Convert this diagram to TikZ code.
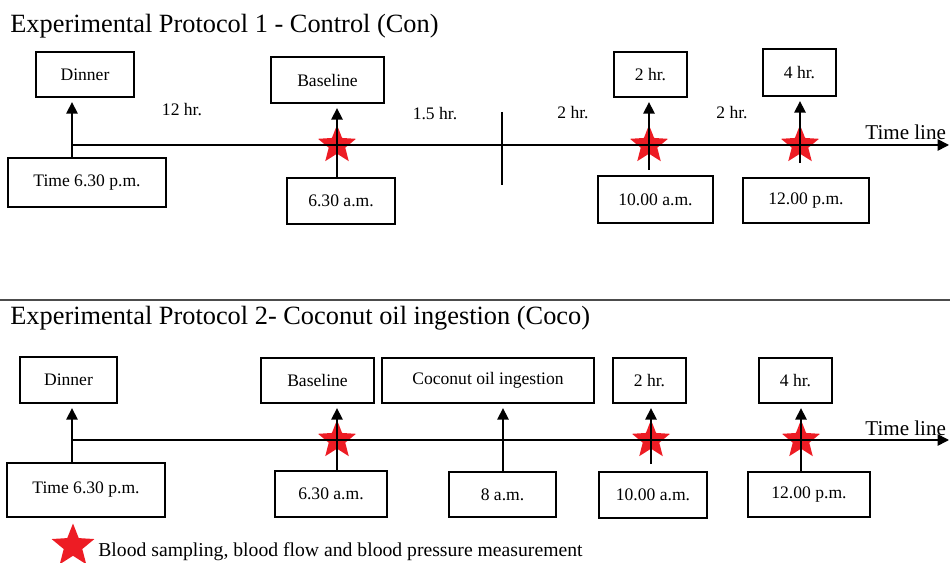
\documentclass[tikz,border=0pt]{standalone}
\usepackage{fontspec}
\setmainfont{Liberation Serif}
\usetikzlibrary{arrows.meta, positioning, shapes.geometric}
\definecolor{starred}{RGB}{237,28,36}

\begin{document}
\begin{tikzpicture}[x=0.02cm, y=-0.02cm,
    box/.style={draw, line width=0.9pt, inner sep=0pt, font=\fontsize{10}{12}\selectfont},
    gap/.style={font=\fontsize{10}{12}\selectfont},
    redstar/.style={star, star points=5, star point ratio=2.3, fill=starred, draw=none, inner sep=0pt, minimum size=0.8cm},
    arr/.style={line width=0.9pt, -{Triangle[width=6.5pt,length=6.5pt]}, shorten >=2.5pt},
    tline/.style={line width=0.9pt, -{Triangle[width=6.5pt,length=6.5pt]}},
    heading/.style={anchor=base west, inner sep=0pt, font=\fontsize{15}{18}\selectfont},
    tlabel/.style={anchor=base west, inner sep=0pt, font=\fontsize{12}{14}\selectfont}]
    \useasboundingbox (0,0) rectangle (950,563);

    % Protocol 1
    \node[heading] (titleA) at (10,33) {Experimental Protocol 1 - Control (Con)};

    \node[box, minimum width=1.96cm, minimum height=0.9cm] (dinA) at (85,74.5) {Dinner};
    \node[box, minimum width=3.16cm, minimum height=0.98cm] (timeA) at (87,182.5) {Time 6.30 p.m.};
    \node[box, minimum width=2.26cm, minimum height=0.92cm] (baseA) at (327.5,80) {Baseline};
    \node[box, minimum width=2.16cm, minimum height=0.92cm] (sixA) at (341,201) {6.30 a.m.};
    \node[box, minimum width=1.46cm, minimum height=0.9cm] (twoA) at (650.5,74.5) {2 hr.};
    \node[box, minimum width=2.3cm, minimum height=0.94cm] (tenA) at (655.5,199.5) {10.00 a.m.};
    \node[box, minimum width=1.46cm, minimum height=0.94cm] (fourA) at (799.5,72.5) {4 hr.};
    \node[box, minimum width=2.52cm, minimum height=0.9cm] (noonA) at (806,200.5) {12.00 p.m.};

    \node[redstar] (s1A) at (337,145) {};
    \node[redstar] (s2A) at (649,145) {};
    \node[redstar] (s3A) at (800,145) {};

    \coordinate (startA) at (72,145);
    \coordinate (endA) at (949,145);
    \draw[tline] (startA) -- (endA);
    \node[tlabel] (lineA) at (865,140) {Time line};

    \draw[arr] (timeA.north -| startA) -- (dinA.south -| startA);
    \draw[arr] (sixA.north -| s1A) -- (baseA.south -| s1A);
    \draw[arr, shorten <=3pt] (tenA.north -| s2A) -- (twoA.south -| s2A);
    \draw[arr, shorten <=8pt] (noonA.north -| s3A) -- (fourA.south -| s3A);
    \draw[line width=0.9pt] (502,112) -- (502,185);

    \node[gap] (g1A) at (182,110) {12 hr.};
    \node[gap] (g2A) at (435,114) {1.5 hr.};
    \node[gap] (g3A) at (573,113) {2 hr.};
    \node[gap] (g4A) at (732,113) {2 hr.};

    \draw[line width=0.8pt, black!70] (0,300) -- (950,300);

    % Protocol 2
    \node[heading] (titleB) at (10,325) {Experimental Protocol 2- Coconut oil ingestion (Coco)};

    \node[box, minimum width=1.94cm, minimum height=0.92cm] (dinB) at (68.5,380) {Dinner};
    \node[box, minimum width=3.16cm, minimum height=1.08cm] (timeB) at (86,490) {Time 6.30 p.m.};
    \node[box, minimum width=2.26cm, minimum height=0.9cm] (baseB) at (317.5,380.5) {Baseline};
    \node[box, minimum width=2.24cm, minimum height=0.92cm] (sixB) at (331,494) {6.30 a.m.};
    \node[box, minimum width=4.24cm, minimum height=0.9cm] (cocoB) at (488,380.5) {Coconut oil ingestion};
    \node[box, minimum width=2.14cm, minimum height=0.9cm] (eightB) at (502.5,494.5) {8 a.m.};
    \node[box, minimum width=1.46cm, minimum height=0.9cm] (twoB) at (649.5,380.5) {2 hr.};
    \node[box, minimum width=2.16cm, minimum height=0.92cm] (tenB) at (653,495) {10.00 a.m.};
    \node[box, minimum width=1.46cm, minimum height=0.9cm] (fourB) at (795.5,380.5) {4 hr.};
    \node[box, minimum width=2.44cm, minimum height=0.9cm] (noonB) at (809,494.5) {12.00 p.m.};

    \node[redstar] (s1B) at (337,440) {};
    \node[redstar] (s2B) at (651,440) {};
    \node[redstar] (s3B) at (801,440) {};

    \coordinate (startB) at (72,440);
    \coordinate (midB) at (503,440);
    \coordinate (endB) at (949,440);
    \draw[tline] (startB) -- (endB);
    \node[tlabel] (lineB) at (865,436) {Time line};

    \draw[arr] (timeB.north -| startB) -- (dinB.south -| startB);
    \draw[arr] (sixB.north -| s1B) -- (baseB.south -| s1B);
    \draw[arr] (eightB.north -| midB) -- (cocoB.south -| midB);
    \draw[arr, shorten <=4pt] (tenB.north -| s2B) -- (twoB.south -| s2B);
    \draw[arr] (noonB.north -| s3B) -- (fourB.south -| s3B);

    % legend
    \node[redstar, minimum size=0.9cm] (keystar) at (73,546) {};
    \node[anchor=base west, inner sep=0pt, font=\fontsize{11.2}{13}\selectfont] (key) at (98,557) {Blood sampling, blood flow and blood pressure measurement};
\end{tikzpicture}
\end{document}
